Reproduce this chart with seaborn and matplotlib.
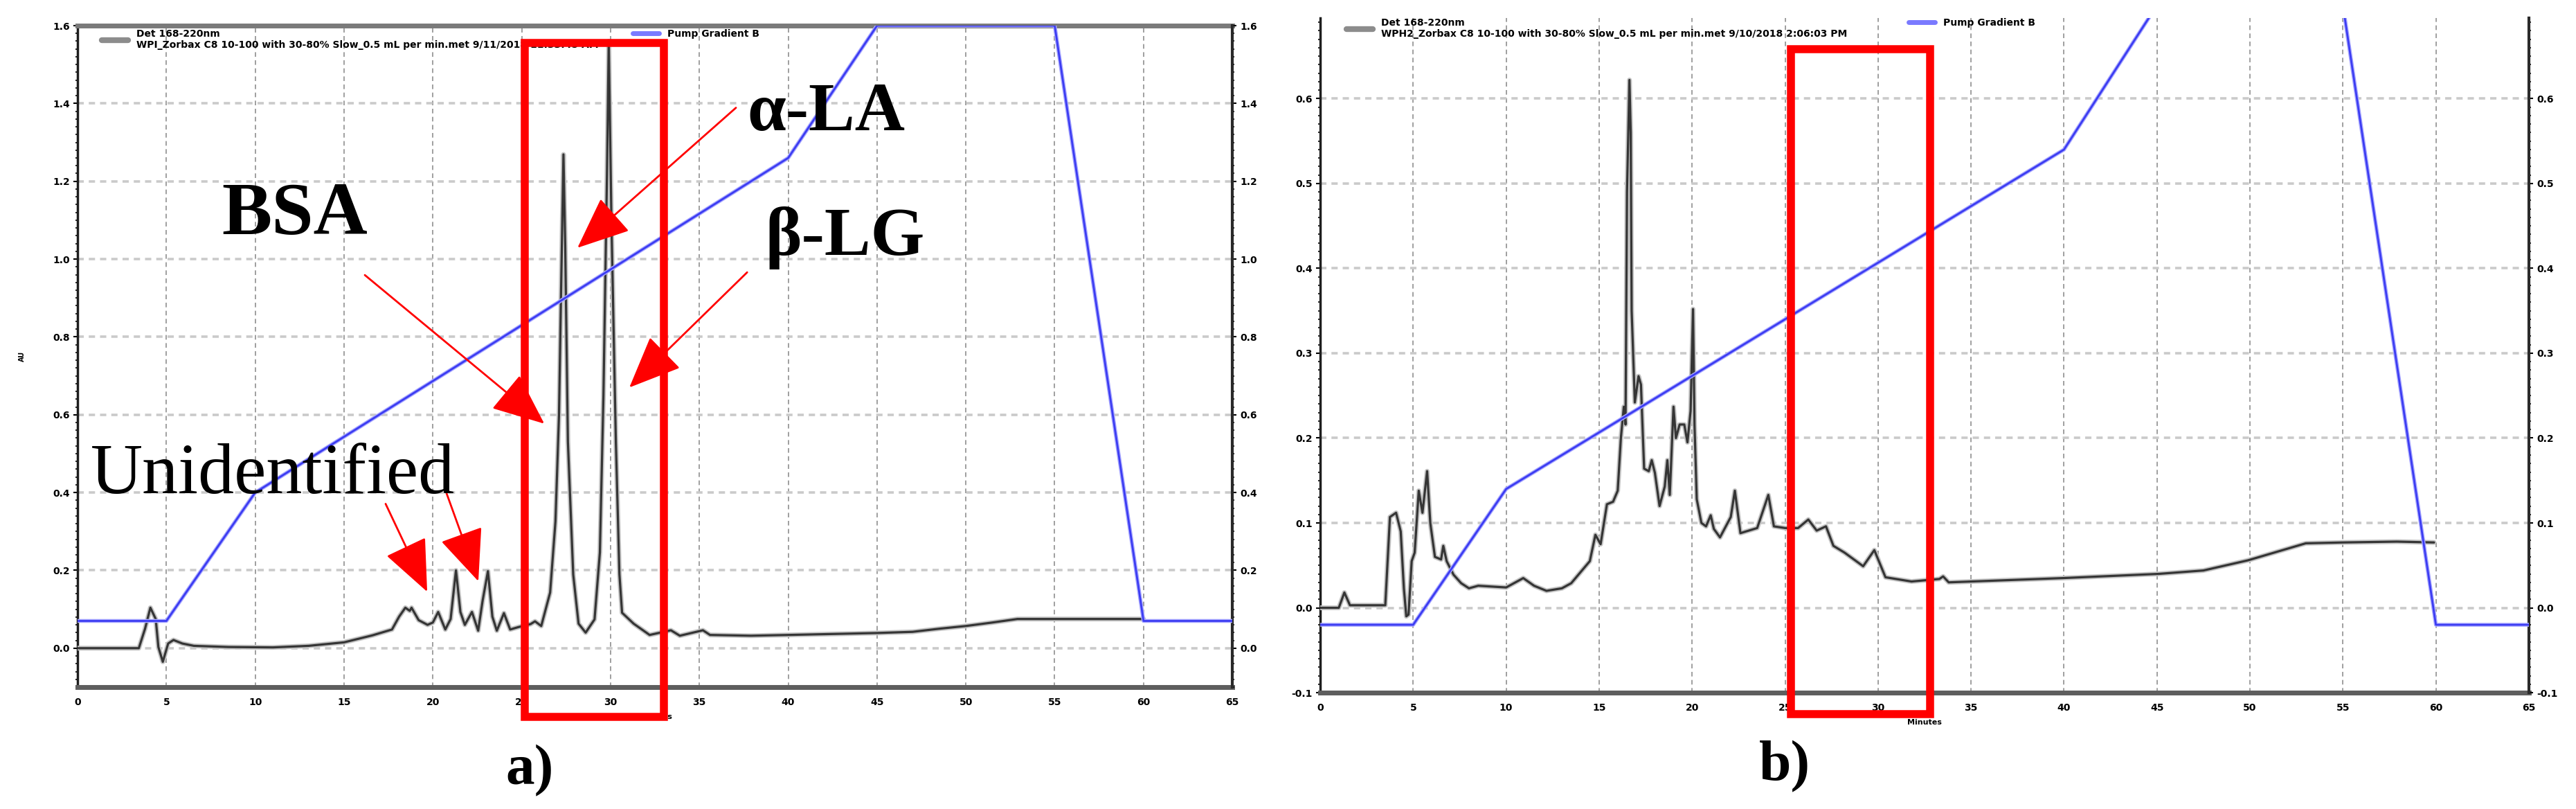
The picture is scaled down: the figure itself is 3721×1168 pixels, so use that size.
import numpy as np
import pandas as pd
import matplotlib
matplotlib.use('Agg')
import matplotlib.pyplot as plt
import matplotlib.patheffects as pe
from matplotlib.patches import Rectangle, FancyArrowPatch
from matplotlib.lines import Line2D
from matplotlib.ticker import MultipleLocator
import seaborn as sns

sns.set_style('white')
plt.rcParams['font.family'] = ['DejaVu Sans']
plt.rcParams['text.color'] = 'black'
plt.rcParams['axes.labelcolor'] = 'black'
plt.rcParams['xtick.color'] = 'black'
plt.rcParams['ytick.color'] = 'black'

# --- a) WPI chromatogram (Det 168-220nm) ---
a_time = [0, 3.45, 3.8, 4.1, 4.4, 4.55, 4.8, 5.1, 5.4, 5.9, 6.55, 8.5, 11, 13, 15, 16.6,
          17.7, 18.1, 18.45, 18.7, 18.8, 19.2, 19.7, 20.0, 20.3, 20.7, 21.0, 21.3, 21.55,
          21.8, 22.2, 22.55, 22.8, 23.1, 23.35, 23.6, 24.0, 24.35, 24.8, 25.5, 25.75, 26.1,
          26.6, 26.9, 27.1, 27.2, 27.35, 27.45, 27.6, 27.9, 28.2, 28.6, 29.1, 29.4, 29.6,
          29.8, 29.9, 30.05, 30.3, 30.5, 30.65, 31.3, 32.2, 33.4, 33.9, 35.2, 35.6, 37.9,
          40, 45, 47, 48.5, 50, 51.5, 52.9, 55, 60]
a_au = [0.0, 0.0, 0.05, 0.104, 0.075, 0.003, -0.035, 0.012, 0.021, 0.012, 0.006, 0.003,
        0.002, 0.006, 0.015, 0.033, 0.048, 0.081, 0.104, 0.096, 0.104, 0.072, 0.06, 0.066,
        0.093, 0.048, 0.075, 0.2, 0.093, 0.06, 0.093, 0.045, 0.122, 0.198, 0.081, 0.045,
        0.09, 0.048, 0.054, 0.062, 0.069, 0.057, 0.143, 0.326, 0.6, 0.874, 1.269, 1.034,
        0.531, 0.189, 0.063, 0.04, 0.074, 0.246, 0.646, 1.217, 1.56, 1.1, 0.53, 0.19, 0.091,
        0.063, 0.034, 0.046, 0.032, 0.046, 0.034, 0.032, 0.034, 0.039, 0.042, 0.05, 0.057,
        0.066, 0.075, 0.075, 0.075]

# --- b) WPH2 chromatogram ---
b_time = [0, 1.0, 1.3, 1.6, 3.5, 3.75, 4.08, 4.33, 4.5, 4.63, 4.75, 4.92, 5.08, 5.3, 5.5,
          5.75, 5.92, 6.17, 6.5, 6.62, 6.8, 7.17, 7.58, 8.0, 8.5, 10.0, 10.92, 11.5, 12.17,
          13.0, 13.5, 14.0, 14.5, 14.8, 15.08, 15.42, 15.75, 16.0, 16.17, 16.33, 16.42, 16.5,
          16.63, 16.7, 16.75, 16.92, 17.12, 17.25, 17.42, 17.67, 17.83, 18.0, 18.25, 18.53,
          18.67, 18.8, 19.0, 19.13, 19.33, 19.58, 19.75, 19.92, 20.05, 20.13, 20.25, 20.5,
          20.75, 21.0, 21.17, 21.5, 22.08, 22.3, 22.6, 23.5, 24.1, 24.4, 25.0, 25.7, 26.25,
          26.7, 27.2, 27.6, 28.2, 29.2, 29.8, 30.4, 31.8, 33.3, 33.5, 33.8, 39.9, 45.1, 47.5,
          49.9, 53.0, 55.0, 57.9, 59.9]
b_au = [0.0, 0.0, 0.018, 0.003, 0.003, 0.107, 0.112, 0.09, 0.023, -0.01, -0.008, 0.055,
        0.065, 0.138, 0.112, 0.161, 0.10, 0.06, 0.057, 0.073, 0.055, 0.039, 0.029, 0.023,
        0.026, 0.024, 0.035, 0.026, 0.02, 0.023, 0.029, 0.042, 0.055, 0.086, 0.075, 0.122,
        0.125, 0.138, 0.20, 0.237, 0.216, 0.49, 0.622, 0.56, 0.35, 0.242, 0.273, 0.263,
        0.164, 0.161, 0.174, 0.159, 0.12, 0.143, 0.174, 0.133, 0.237, 0.20, 0.216, 0.216,
        0.195, 0.232, 0.352, 0.216, 0.128, 0.10, 0.096, 0.109, 0.093, 0.083, 0.107, 0.138,
        0.088, 0.094, 0.133, 0.096, 0.094, 0.094, 0.104, 0.091, 0.096, 0.073, 0.065, 0.049,
        0.068, 0.036, 0.031, 0.034, 0.037, 0.03, 0.035, 0.04, 0.044, 0.056, 0.076, 0.077,
        0.078, 0.077]

# pump gradient B (plotted on the right hand axis)
grad_time = [0, 5, 10, 40, 45, 55, 60, 65]
a_grad = [0.07, 0.07, 0.40, 1.26, 1.60, 1.60, 0.07, 0.07]
b_grad = [-0.02, -0.02, 0.14, 0.54, 0.71, 0.71, -0.02, -0.02]

x_ticks = [0, 5, 10, 15, 20, 25, 30, 35, 40, 45, 50, 55, 60, 65]
a_yticks = [0.0, 0.2, 0.4, 0.6, 0.8, 1.0, 1.2, 1.4, 1.6]
b_yticks = [-0.1, 0.0, 0.1, 0.2, 0.3, 0.4, 0.5, 0.6]

a_legend = 'Det 168-220nm\nWPI_Zorbax C8 10-100 with 30-80% Slow_0.5 mL per min.met 9/11/2018 11:33:45 AM'
b_legend = 'Det 168-220nm\nWPH2_Zorbax C8 10-100 with 30-80% Slow_0.5 mL per min.met 9/10/2018 2:06:03 PM'

df_a = pd.DataFrame({'Minutes': a_time, 'AU': a_au})
df_b = pd.DataFrame({'Minutes': b_time, 'AU': b_au})
df_ga = pd.DataFrame({'Minutes': grad_time, 'B': a_grad})
df_gb = pd.DataFrame({'Minutes': grad_time, 'B': b_grad})

fig = plt.figure(figsize=(37.21, 11.68), dpi=100)
ax_a = fig.add_axes([0.0301, 0.1507, 0.4483, 0.8176])
ax_b = fig.add_axes([0.5125, 0.1438, 0.4692, 0.8339])

RED = '#ff0000'
BLUE = '#3c3cf2'
serif = ['Liberation Serif', 'DejaVu Serif']


def draw_panel(ax, df, dfg, ylim, yticks, yminor, legend_txt, leg_xy, pump_xy, top_spine):
    ax.set_axisbelow(True)
    ax.grid(axis='x', linestyle=(0, (4, 3)), color='#8f8f8f', lw=1.2)
    ax.grid(axis='y', linestyle=(0, (2.5, 2)), color='#cacaca', lw=2.6)
    sns.lineplot(data=df, x='Minutes', y='AU', ax=ax, color='#353535', lw=2.3,
                 sort=False, estimator=None, zorder=3,
                 path_effects=[pe.Stroke(linewidth=5, foreground='#c4c4c4'), pe.Normal()])
    tw = ax.twinx()
    sns.lineplot(data=dfg, x='Minutes', y='B', ax=tw, color=BLUE, lw=2.0,
                 sort=False, estimator=None, zorder=3,
                 path_effects=[pe.Stroke(linewidth=4, foreground='#a8a8ff'), pe.Normal()])
    for a in (ax, tw):
        a.set_xlim(0, 65)
        a.set_ylim(*ylim)
        a.set_yticks(yticks, [f'{v:.1f}' for v in yticks], fontsize=10, fontweight='bold')
        a.yaxis.set_minor_locator(MultipleLocator(yminor))
        a.tick_params(axis='y', which='major', length=4, width=1.5, pad=4)
        a.tick_params(axis='y', which='minor', length=2.5, width=1.2)
    ax.set_xticks(x_ticks, [str(v) for v in x_ticks], fontsize=10, fontweight='bold')
    ax.xaxis.set_minor_locator(MultipleLocator(1))
    ax.tick_params(axis='x', which='major', length=5, width=1.5, pad=6)
    ax.tick_params(axis='x', which='minor', length=3, width=1.2)
    tw.set_ylabel('')
    ax.set_xlabel('Minutes', fontsize=8, fontweight='bold', labelpad=6)
    ax.spines['bottom'].set_color('#5e5e5e')
    ax.spines['bottom'].set_linewidth(5)
    ax.spines['left'].set_color('#1e1e1e')
    ax.spines['left'].set_linewidth(2.5)
    ax.spines['right'].set_visible(False)
    ax.spines['top'].set_visible(top_spine)
    ax.spines['top'].set_color('#7a7a7a')
    ax.spines['top'].set_linewidth(5)
    for s in ('left', 'top', 'bottom'):
        tw.spines[s].set_visible(False)
    tw.spines['right'].set_color('#2a2a2a')
    tw.spines['right'].set_linewidth(3)

    leg1 = ax.legend(handles=[Line2D([], [], color='#8c8c8c', lw=6)], labels=[legend_txt],
                     loc='upper left', bbox_to_anchor=leg_xy, frameon=False,
                     prop={'weight': 'bold', 'size': 10}, handlelength=2.7,
                     handletextpad=0.9, borderpad=0, borderaxespad=0)
    leg1.set_zorder(4)
    leg2 = tw.legend(handles=[Line2D([], [], color='#7a7aff', lw=5)], labels=['Pump Gradient B'],
                     loc='upper left', bbox_to_anchor=pump_xy, frameon=False,
                     prop={'weight': 'bold', 'size': 10}, handlelength=2.7,
                     handletextpad=0.9, borderpad=0, borderaxespad=0)
    leg2.set_zorder(4)
    return tw


tw_a = draw_panel(ax_a, df_a, df_ga, (-0.1, 1.6), a_yticks, 0.02, a_legend,
                  (0.021, 0.995), (0.481, 0.995), True)
tw_b = draw_panel(ax_b, df_b, df_gb, (-0.1, 0.695), b_yticks, 0.01, b_legend,
                  (0.0218, 1.0), (0.487, 1.0), False)
ax_a.set_ylabel('AU', fontsize=7, fontweight='bold', labelpad=28)
ax_b.set_ylabel('')


def box(ax, x0, x1, y0, y1):
    ax.add_patch(Rectangle((x0, y0), x1 - x0, y1 - y0, fill=False, edgecolor=RED,
                           lw=8.3, clip_on=False, zorder=12))


def arrow(ax, start, tip):
    ax.add_patch(FancyArrowPatch(start, tip, arrowstyle='-|>,head_length=0.8,head_width=0.34',
                                 mutation_scale=60, color=RED, lw=2.0, shrinkA=0, shrinkB=0,
                                 clip_on=False, zorder=12))


box(tw_a, 25.18, 33.0, -0.176, 1.556)
box(tw_b, 25.3, 32.8, -0.125, 0.658)

arrow(tw_a, (37.06, 1.389), (28.14, 1.029))
arrow(tw_a, (37.69, 0.966), (31.06, 0.670))
arrow(tw_a, (16.17, 0.959), (26.27, 0.577))
arrow(tw_a, (17.34, 0.371), (19.68, 0.145))
arrow(tw_a, (20.77, 0.398), (22.56, 0.172))

tw_a.text(37.7, 1.332, 'α-LA', fontsize=72, fontweight='bold', family=serif, color='black',
          va='baseline', ha='left', zorder=13, clip_on=False)
tw_a.text(38.7, 1.011, 'β-LG', fontsize=72, fontweight='bold', family=serif, color='black',
          va='baseline', ha='left', zorder=13, clip_on=False)
tw_a.text(8.1, 1.065, 'BSA', fontsize=78, fontweight='bold', family=serif, color='black',
          va='baseline', ha='left', zorder=13, clip_on=False)
tw_a.text(0.74, 0.398, 'Unidentified', fontsize=75, family=serif, color='black',
          va='baseline', ha='left', zorder=13, clip_on=False)

fig.text(0.2056, 0.047, 'a)', fontsize=60, fontweight='bold', family=serif, color='black',
         ha='center', va='center')
fig.text(0.6928, 0.052, 'b)', fontsize=60, fontweight='bold', family=serif, color='black',
         ha='center', va='center')

fig.savefig('out.png', dpi=100)
